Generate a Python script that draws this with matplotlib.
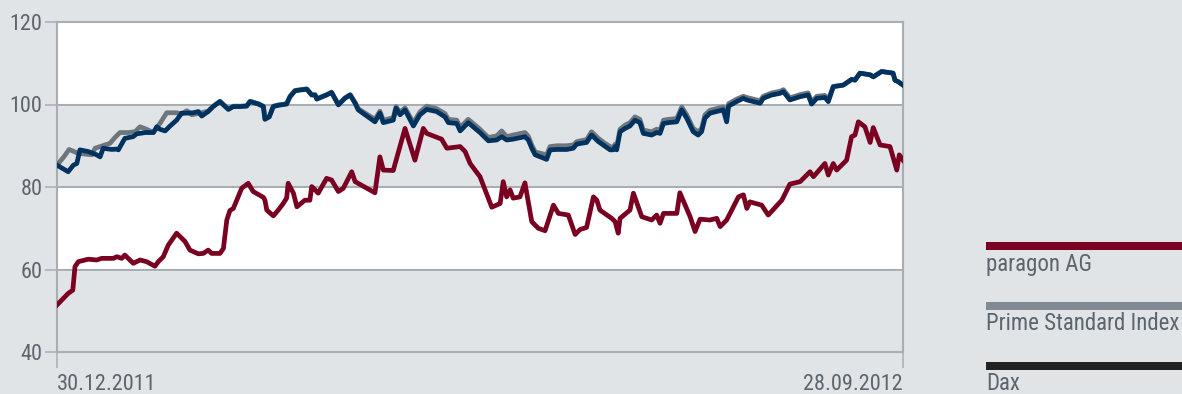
import numpy as np
import pandas as pd
import matplotlib
matplotlib.use('Agg')
import matplotlib.pyplot as plt
from matplotlib import font_manager as fm
from matplotlib.patches import Rectangle

start = pd.Timestamp('2011-12-30')
end = pd.Timestamp('2012-09-28')

# days since 30.12.2011, index values
paragon_days = [0.0, 3.6, 5.1, 5.8, 6.9, 10.1, 12.8, 14.4, 18.2, 19.3, 20.9, 21.9, 24.6, 26.8, 28.9,
                31.6, 32.7, 34.3, 35.9, 38.6, 40.2, 41.3, 42.9, 45.6, 47.2, 48.8, 49.9, 52.6, 53.7,
                54.8, 55.8, 56.9, 59.6, 61.7, 63.3, 66.6, 67.1, 67.7, 69.8, 71.4, 73.0, 74.1, 74.6,
                76.3, 77.4, 80.0, 81.6, 82.2, 83.3, 84.3, 87.0, 88.6, 90.8, 92.4, 95.1, 96.2, 102.6,
                104.2, 105.3, 108.5, 112.3, 115.5, 118.2, 119.3, 124.1, 125.8, 130.1, 131.7, 133.3,
                136.5, 140.3, 143.0, 144.0, 145.1, 146.2, 147.2, 149.4, 151.0, 153.2, 155.3, 157.5,
                160.2, 161.8, 165.0, 167.2, 168.8, 170.9, 173.1, 174.2, 175.2, 179.0, 180.1, 181.1,
                181.7, 184.9, 186.0, 188.7, 191.9, 193.5, 194.6, 195.7, 200.0, 201.0, 204.3, 205.9,
                207.5, 210.7, 212.9, 214.0, 216.1, 219.9, 221.5, 222.6, 223.6, 227.4, 229.5, 233.9,
                236.5, 239.8, 243.0, 244.1, 247.8, 248.9, 250.5, 251.6, 254.8, 256.4, 257.5, 258.6,
                260.7, 262.4, 263.4, 265.6, 268.8, 271.0, 271.8, 273.0]
paragon_vals = [51.4, 54.2, 55.0, 60.7, 61.9, 62.5, 62.3, 62.7, 62.7, 63.1, 62.7, 63.5, 61.5, 62.3, 61.9,
                60.8, 61.9, 63.1, 65.9, 68.8, 67.6, 66.8, 64.7, 63.8, 63.9, 64.7, 63.9, 63.9, 65.1,
                72.0, 74.3, 74.8, 79.7, 80.9, 78.9, 77.5, 76.8, 74.4, 73.0, 74.4, 76.0, 77.3, 80.9,
                78.5, 75.2, 76.8, 76.8, 80.1, 79.3, 78.5, 82.1, 81.7, 78.9, 79.7, 83.7, 81.3, 78.6,
                87.3, 84.1, 84.0, 94.2, 86.5, 94.2, 93.0, 91.6, 89.4, 89.8, 88.6, 85.7,
                82.5, 75.1, 76.0, 81.3, 77.6, 79.3, 77.3, 77.6, 81.0, 71.6, 70.0, 69.4,
                75.6, 73.6, 73.2, 68.5, 69.7, 70.2, 77.6, 76.8, 74.4, 72.4, 71.6, 68.8,
                72.4, 74.4, 78.5, 72.8, 72.0, 73.2, 71.2, 73.6, 73.6, 78.6, 72.8, 69.2,
                72.2, 72.0, 72.4, 70.4, 72.0, 77.6, 78.1, 74.8, 76.4, 75.6, 73.2, 76.8,
                80.7, 81.3, 83.7, 82.5, 85.7, 82.9, 85.7, 84.1, 86.5, 92.2, 92.6, 95.8,
                94.6, 90.8, 94.4, 90.2, 89.8, 84.1, 87.8, 86.5]

dax_days = [0.0, 3.6, 5.3, 6.4, 7.4, 10.1, 12.8, 13.9, 14.9, 17.7, 19.3, 19.8, 21.9, 24.6, 25.7, 26.8,
            28.4, 31.1, 32.2, 33.2, 34.9, 36.5, 38.6, 40.2, 41.9, 44.0, 45.6, 46.7, 48.8, 50.4, 52.6,
            53.7, 55.3, 56.9, 59.1, 61.2, 62.3, 65.0, 66.6, 67.1, 68.5, 69.8, 71.4, 74.1, 75.2, 76.8,
            78.4, 80.6, 82.2, 83.3, 83.8, 87.0, 88.6, 90.8, 92.9, 94.6, 96.2, 97.2, 102.6, 104.2,
            105.3, 108.5, 109.4, 110.7, 112.3, 115.0, 117.1, 119.3, 122.5, 125.2, 126.3, 129.0,
            130.1, 132.7, 136.5, 139.2, 141.9, 143.5, 145.1, 147.2, 151.0, 152.1, 153.2, 154.3,
            158.0, 159.1, 161.3, 164.5, 166.6, 167.7, 170.9, 172.5, 174.7, 176.8, 178.5, 179.5,
            180.1, 180.6, 181.7, 183.3, 184.9, 186.5, 188.1, 189.2, 191.9, 193.5, 194.6, 195.7,
            197.3, 200.0, 201.6, 203.2, 205.3, 206.9, 208.0, 209.1, 210.7, 212.9, 215.0, 216.1,
            216.7, 219.3, 221.5, 222.6, 224.7, 226.9, 227.9, 230.6, 233.3, 234.4, 236.5, 239.8,
            242.4, 243.5, 245.2, 247.8, 248.9, 250.5, 253.7, 255.3, 256.4, 257.5, 259.1, 262.4,
            263.4, 266.1, 269.8, 270.4, 271.5, 273.0]
dax_vals = [85.3, 83.7, 85.3, 85.7, 89.0, 88.6, 87.8, 87.3, 89.4, 89.1, 89.2, 89.0, 91.8, 92.2, 92.9, 93.0,
            93.2, 93.2, 94.6, 94.0, 93.6, 94.8, 96.2, 97.9, 97.9, 98.0, 98.3, 97.2, 98.3, 99.5, 100.7,
            99.9, 98.8, 99.5, 99.5, 99.6, 100.7, 100.1, 99.5, 96.4, 97.0, 99.5, 99.8, 100.1, 101.9, 103.3,
            103.5, 103.7, 102.3, 102.3, 101.3, 102.3, 102.9, 99.9, 101.5, 102.3, 100.3, 98.7, 95.8, 97.9,
            95.6, 96.2, 99.1, 97.5, 98.7, 94.8, 97.5, 98.8, 98.3, 97.0, 95.6, 95.4,
            93.6, 95.6, 93.2, 91.2, 91.4, 92.2, 91.4, 91.6, 92.2, 91.4, 89.4, 87.8,
            86.7, 89.0, 89.1, 89.1, 89.4, 90.4, 90.8, 92.6, 91.0, 89.9, 89.0, 89.0,
            89.8, 89.0, 93.4, 94.2, 94.8, 96.2, 95.6, 93.0, 92.6, 93.2, 93.0, 95.4,
            95.6, 95.8, 98.7, 96.7, 93.4, 92.6, 93.4, 96.7, 97.9, 98.3, 98.7, 95.8,
            99.6, 100.7, 101.5, 101.1, 100.7, 100.3, 101.5, 102.3, 102.7, 103.1, 101.1, 101.9,
            102.3, 100.1, 101.5, 101.7, 100.7, 104.3, 104.7, 105.5, 106.1, 105.9, 107.6, 107.2,
            106.7, 108.0, 107.6, 105.9, 105.5, 104.7]

prime_days = [0.0, 2.2, 3.9, 5.5, 6.6, 11.2, 12.3, 13.9, 17.1, 18.7, 20.3, 23.0, 25.2, 26.8, 28.9, 31.1,
              33.2, 35.4, 38.6, 40.2, 41.9, 43.5, 46.1, 48.8, 50.4, 52.6, 53.7, 55.3, 56.9, 59.1, 61.2,
              62.3, 65.0, 66.6, 67.1, 68.5, 69.8, 71.4, 74.1, 75.2, 76.8, 78.4, 80.6, 82.2, 83.3, 83.8,
              87.0, 88.6, 90.8, 92.9, 94.6, 96.2, 97.2, 102.6, 104.2, 105.3, 108.5, 109.4, 110.7, 112.3,
              115.0, 117.1, 119.3, 122.5, 125.2, 126.3, 129.0, 130.1, 132.7, 136.5, 139.2, 141.9, 143.5,
              145.1, 147.2, 151.0, 152.1, 153.2, 154.3, 158.0, 159.1, 161.3, 164.5, 166.6, 167.7, 170.9,
              172.5, 174.7, 176.8, 178.5, 179.5, 180.1, 180.6, 181.7, 183.3, 184.9, 186.5, 188.1, 189.2,
              191.9, 193.5, 194.6, 195.7, 197.3, 200.0, 201.6, 203.2, 205.3, 206.9, 208.0, 209.1, 210.7,
              212.9, 215.0, 216.1, 216.7, 219.3, 221.5, 222.6, 224.7, 226.9, 227.9, 230.6, 233.3, 234.4,
              236.5, 239.8, 242.4, 243.5, 245.2, 247.8, 248.9, 250.5, 253.7, 255.3, 256.4, 257.5, 259.1,
              262.4, 263.4, 266.1, 269.8, 270.4, 271.5, 273.0]
prime_vals = [85.3, 87.3, 89.1, 88.6, 88.2, 87.8, 89.4, 89.8, 90.6, 92.0, 93.2, 93.2, 93.4, 94.6, 94.0, 93.2,
              95.4, 98.0, 98.0, 97.7, 98.5, 97.5, 97.9, 98.4, 99.6, 100.8, 100.0, 98.9, 99.6, 99.6, 99.7,
              100.8, 100.2, 99.6, 96.6, 97.1, 99.6, 99.9, 100.2, 102.0, 103.4, 103.6, 103.8, 102.4, 102.4, 101.4,
              102.4, 103.0, 100.0, 101.6, 102.4, 100.5, 99.0, 96.4, 98.4, 96.2, 96.8, 99.5, 98.1, 99.2,
              95.6, 98.2, 99.6, 99.0, 97.8, 96.4, 96.2, 94.5, 96.4, 94.0, 92.0, 92.4, 93.6,
              92.2, 92.6, 93.2, 92.3, 90.2, 88.5, 87.8, 89.8, 90.0, 90.0, 90.2, 91.0, 91.5,
              93.4, 91.8, 90.6, 89.8, 89.6, 90.4, 89.8, 94.0, 95.0, 95.6, 97.0, 96.4, 93.8,
              93.4, 94.0, 93.8, 96.2, 96.4, 96.6, 99.4, 97.5, 94.2, 93.4, 94.2, 97.5, 98.6,
              99.0, 99.4, 96.6, 100.2, 101.3, 102.0, 101.7, 101.3, 100.9, 102.0, 102.8, 103.2, 103.6,
              101.6, 102.4, 102.8, 100.6, 102.0, 102.2, 101.1, 104.4, 104.7, 105.5, 106.1, 105.9, 107.6,
              107.2, 106.7, 108.0, 107.6, 105.9, 105.5, 104.7]

series_names = ['paragon AG', 'Prime Standard Index', 'Dax']
yticks = [40, 60, 80, 100, 120]
xtick_labels = ['30.12.2011', '28.09.2012']


def to_dates(days):
    return start + pd.to_timedelta(np.array(days), unit='D')


# look for a condensed font, the original uses a narrow typeface
def pick_font():
    pref = ['Roboto Condensed', 'Liberation Sans Narrow', 'DejaVu Sans Condensed',
            'Open Sans Condensed', 'Noto Sans Condensed']
    narrow = []
    for f in fm.fontManager.ttflist:
        key = (f.name + ' ' + f.fname).lower()
        if f.style != 'normal' or f.weight not in (400, 'normal', 'regular'):
            continue
        if 'condensed' in key or 'narrow' in key or f.stretch in ('condensed', 'semi-condensed'):
            if 'bold' in key or 'italic' in key or 'oblique' in key or 'light' in key:
                continue
            narrow.append(f)
    for p in pref:
        for f in narrow:
            if f.name == p or p.replace(' ', '').lower() in f.fname.replace(' ', '').lower():
                return fm.FontProperties(fname=f.fname)
    if narrow:
        return fm.FontProperties(fname=narrow[0].fname)
    return fm.FontProperties(family='Roboto')


font = pick_font()

bg = '#e1e4e7'
grid_c = '#a9aeb3'
txt_c = '#5c656d'
red = '#7a0021'
gray = '#6e767d'
navy = '#00325f'

fig = plt.figure(figsize=(11.82, 3.94), dpi=100, facecolor=bg)
ax = fig.add_axes([57 / 1182, 42 / 394, 846 / 1182, 330 / 394])
ax.set_facecolor(bg)
ax.axhspan(100, 120, color='white', zorder=0)
ax.axhspan(60, 80, color='white', zorder=0)

for y in yticks:
    ax.axhline(y, color=grid_c, lw=1.5, zorder=1, clip_on=False)

ax.plot(to_dates(prime_days), prime_vals, color=gray, lw=3.4, zorder=3, solid_joinstyle='round')
ax.plot(to_dates(dax_days), dax_vals, color=navy, lw=3.4, zorder=4, solid_joinstyle='round')
ax.plot(to_dates(paragon_days), paragon_vals, color=red, lw=3.4, zorder=5, solid_joinstyle='round')

ax.set_xlim(start, end)
ax.set_ylim(40, 120)
for s in ['top', 'bottom']:
    ax.spines[s].set_visible(False)
for s in ['left', 'right']:
    ax.spines[s].set_color(grid_c)
    ax.spines[s].set_linewidth(1.5)

ax.set_yticks(yticks)
ax.tick_params(axis='y', length=8.6, width=1.1, color=grid_c, pad=2, labelcolor=txt_c)
ax.set_xticks([start, end])
ax.set_xticklabels(xtick_labels)
ax.tick_params(axis='x', length=11.5, width=1.1, color=grid_c, pad=4, labelcolor=txt_c)
for lb in ax.get_yticklabels() + ax.get_xticklabels():
    lb.set_fontproperties(font)
    lb.set_fontsize(16)
lbls = ax.get_xticklabels()
lbls[0].set_ha('left')
lbls[1].set_ha('right')

# legend on the right
colors = [red, '#808a93', '#222222']
bar_tops = [242, 302, 362]
for name, c, top in zip(series_names, colors, bar_tops):
    fig.add_artist(Rectangle((986 / 1182, 1 - (top + 7.5) / 394), 196 / 1182, 7.5 / 394,
                             transform=fig.transFigure, color=c, lw=0))
    fig.text(986 / 1182, 1 - (top + 22) / 394, name, color=txt_c, fontproperties=font,
             fontsize=16.5, ha='left', va='center')

fig.savefig('out.png', dpi=100, facecolor=bg)
